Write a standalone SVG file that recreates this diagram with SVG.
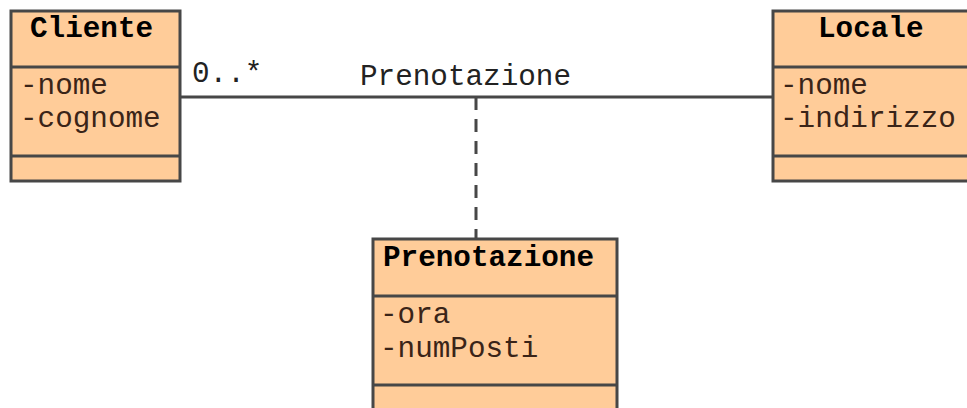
<svg xmlns="http://www.w3.org/2000/svg" width="967" height="408" viewBox="0 0 967 408">
  <style>
    .box { fill: #FFCC99; stroke: #474747; stroke-width: 3; }
    .div { stroke: #474747; stroke-width: 3; }
    .title { font-family: "Liberation Mono", "Courier New", monospace; font-size: 29.3px; font-weight: bold; fill: #000; }
    .attr { font-family: "Liberation Mono", "Courier New", monospace; font-size: 29.3px; fill: #3a2418; }
    .lbl { font-family: "Liberation Mono", "Courier New", monospace; font-size: 29.3px; fill: #222; }
    .assoc { stroke: #474747; stroke-width: 3; fill: none; }
    .dash { stroke: #474747; stroke-width: 3; fill: none; stroke-dasharray: 13 9; }
  </style>

  <g id="connectors">
    <line class="assoc" x1="180" y1="97" x2="772" y2="97"/>
    <line class="dash" x1="476" y1="97" x2="476" y2="238"/>
    <text class="lbl" x="192" y="82">0..*</text>
    <text class="lbl" x="360" y="85">Prenotazione</text>
  </g>

  <g id="cliente">
    <rect class="box" x="11" y="11" width="169" height="170"/>
    <line class="div" x1="11" y1="67" x2="180" y2="67"/>
    <line class="div" x1="11" y1="156" x2="180" y2="156"/>
    <text class="title" x="30" y="37">Cliente</text>
    <text class="attr" x="20" y="94">-nome</text>
    <text class="attr" x="20" y="127">-cognome</text>
  </g>

  <g id="locale">
    <rect class="box" x="773" y="11" width="210" height="170"/>
    <line class="div" x1="773" y1="67" x2="983" y2="67"/>
    <line class="div" x1="773" y1="156" x2="983" y2="156"/>
    <text class="title" x="818" y="37">Locale</text>
    <text class="attr" x="780" y="94">-nome</text>
    <text class="attr" x="780" y="127">-indirizzo</text>
  </g>

  <g id="prenotazione">
    <rect class="box" x="373" y="239" width="244" height="190"/>
    <line class="div" x1="373" y1="296" x2="617" y2="296"/>
    <line class="div" x1="373" y1="385" x2="617" y2="385"/>
    <text class="title" x="383" y="266">Prenotazione</text>
    <text class="attr" x="380" y="323">-ora</text>
    <text class="attr" x="380" y="357">-numPosti</text>
  </g>
</svg>
